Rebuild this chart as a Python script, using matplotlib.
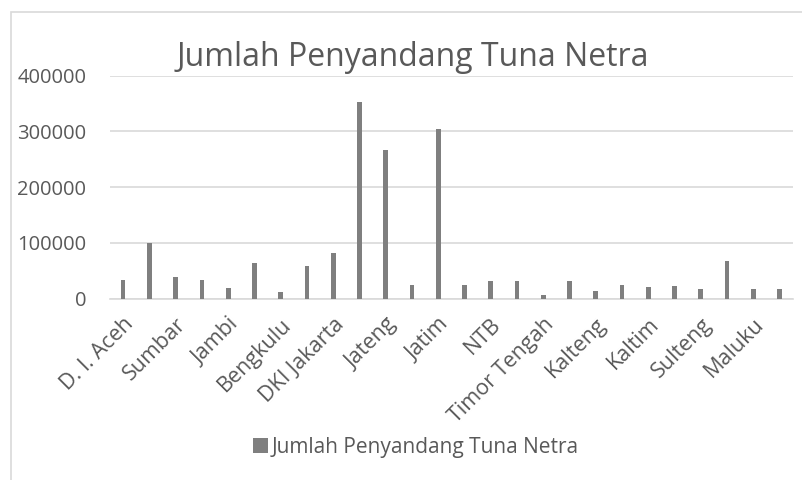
import matplotlib
matplotlib.use("Agg")
import matplotlib.pyplot as plt
from matplotlib.patches import Rectangle

provinces = ["D. I. Aceh", "Sumut", "Sumbar", "Riau", "Jambi", "Sumsel", "Bengkulu",
             "Lampung", "DKI Jakarta", "Jabar", "Jateng", "DI Yogyakarta", "Jatim",
             "Bali", "NTB", "NTT", "Timor Tengah", "Kalbar", "Kalteng", "Kalsel",
             "Kaltim", "Sulut", "Sulteng", "Sulsel", "Maluku", "Papua"]
jumlah = [33500, 99500, 38300, 33500, 19700, 64000, 12000, 59200, 81300, 352200,
          266700, 25100, 303800, 25100, 31700, 31700, 6000, 31700, 14300, 25100,
          20300, 22700, 16700, 67600, 17900, 16700]
yticks = [0, 100000, 200000, 300000, 400000]
series_name = "Jumlah Penyandang Tuna Netra"

plt.rcParams['font.family'] = ['Open Sans', 'DejaVu Sans']
txt = '#595959'
grid = '#d9d9d9'
bar_c = '#7f7f7f'

fig = plt.figure(figsize=(8.02, 4.80), dpi=100)
# chart frame
fig.patches.append(Rectangle((11 / 802, -0.1), 1.2, 1 - 12 / 480 + 0.1, transform=fig.transFigure,
                             fill=False, edgecolor=grid, linewidth=1.2))

ax = fig.add_axes([110 / 802, 1 - 298.7 / 480, 682.7 / 802, 223 / 480])
x = list(range(len(provinces)))
bars = ax.bar(x, jumlah, width=0.18, color=bar_c, label=series_name, zorder=3)

ax.set_xlim(-0.5, len(provinces) - 0.5)
ax.set_ylim(0, 400000)
ax.set_yticks(yticks)
ax.set_yticklabels([str(v) for v in yticks], fontsize=14.5, color=txt)
ax.yaxis.grid(True, color=grid, linewidth=1.2, zorder=0)
ax.tick_params(axis='y', length=0, pad=17)
ax.tick_params(axis='x', length=0, pad=11)

ax.set_xticks(x[::2])
ax.set_xticklabels(provinces[::2], rotation=45, ha='right', va='top',
                   rotation_mode='anchor', fontsize=15.5, color=txt)

for s in ['left', 'right', 'top']:
    ax.spines[s].set_visible(False)
ax.spines['bottom'].set_color(grid)
ax.spines['bottom'].set_linewidth(1.2)

fig.text(413 / 802, 1 - 58 / 480, "Jumlah Penyandang Tuna Netra", ha='center', va='center',
         fontsize=23, color=txt)

fig.legend(handles=[bars], labels=[series_name], loc='center', bbox_to_anchor=(416 / 802, 1 - 447 / 480),
           frameon=False, fontsize=15, labelcolor=txt, handlelength=0.7, handleheight=0.7,
           handletextpad=0.2)

fig.savefig("out.png", dpi=100)
